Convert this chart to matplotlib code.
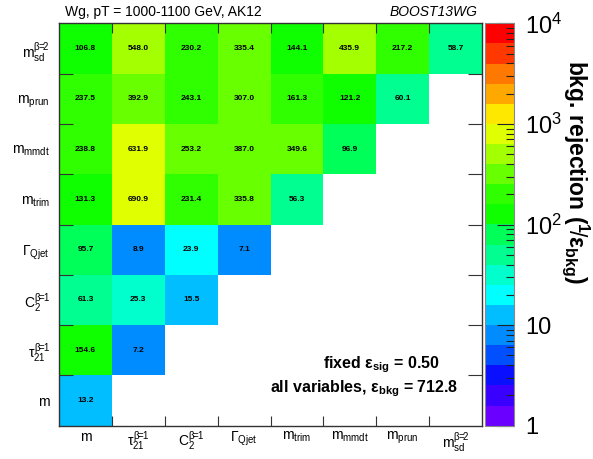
import numpy as np
import matplotlib
matplotlib.use("Agg")
import matplotlib.pyplot as plt
from matplotlib.colors import ListedColormap, LogNorm
from matplotlib.ticker import FixedLocator, LogLocator, NullFormatter

plt.rcParams['font.family'] = ['Liberation Sans', 'DejaVu Sans']
plt.rcParams['mathtext.fontset'] = 'custom'
plt.rcParams['mathtext.rm'] = 'Liberation Sans'
plt.rcParams['mathtext.it'] = 'Liberation Sans'
plt.rcParams['mathtext.bf'] = 'Liberation Sans:bold'

# ---- data ----
labels = [r"m", r"$\tau_{21}^{\beta\!\!=\!\!1}$", r"$\mathrm{C}_{2}^{\beta\!\!=\!\!1}$", r"$\Gamma_{\mathrm{Qjet}}$",
          r"$\mathrm{m}_{\mathrm{trim}}$", r"$\mathrm{m}_{\mathrm{mmdt}}$", r"$\mathrm{m}_{\mathrm{prun}}$",
          r"$\mathrm{m}_{\mathrm{sd}}^{\beta\!\!=\!\!2}$"]
row_m = [13.2]
row_tau21 = [154.6, 7.2]
row_c2 = [61.3, 25.3, 15.5]
row_qjet = [95.7, 8.9, 23.9, 7.1]
row_mtrim = [131.3, 690.9, 231.4, 335.8, 56.3]
row_mmmdt = [238.8, 631.9, 253.2, 387.0, 349.6, 96.9]
row_mprun = [237.5, 392.9, 243.1, 307.0, 161.3, 121.2, 60.1]
row_msd = [106.8, 548.0, 230.2, 335.4, 144.1, 435.9, 217.2, 58.7]
rows = [row_m, row_tau21, row_c2, row_qjet, row_mtrim, row_mmmdt, row_mprun, row_msd]
all_var_eff = 712.8
sig_eff = 0.50

palette = ["#6a00ff", "#3a00ff", "#0a10ff", "#0050ff", "#008cff", "#00beff", "#00ffff",
           "#00ffcc", "#00ff90", "#00ff58", "#10ff00", "#30ff00", "#68ff00", "#a4ff00",
           "#e0ff00", "#ffe800", "#ffa800", "#ff7800", "#ff3800", "#ff0000"]

n = len(labels)
Z = np.full((n, n), np.nan)
for i, r in enumerate(rows):
    Z[i, :len(r)] = r

W, H = 593, 459
fig = plt.figure(figsize=(W / 100, H / 100), dpi=100)
ax = fig.add_axes([59 / W, 1 - 425.7 / H, (482 - 59) / W, (425.7 - 23.3) / H])
cax = fig.add_axes([485 / W, 1 - 425.7 / H, 29 / W, (425.7 - 23.3) / H])

cmap = ListedColormap(palette)
cmap.set_bad((1, 1, 1, 0))
norm = LogNorm(vmin=1, vmax=1e4)
mesh = ax.pcolormesh(np.arange(n + 1), np.arange(n + 1), np.ma.masked_invalid(Z), cmap=cmap, norm=norm)

for i, r in enumerate(rows):
    for j, v in enumerate(r):
        ax.text(j + 0.5, i + 0.5, f"{v:.1f}", ha='center', va='center', fontsize=6,
                fontweight='bold', color='black', zorder=5)

ax.set_xlim(0, n)
ax.set_ylim(0, n)
ax.xaxis.set_major_locator(FixedLocator(np.arange(n) + 0.5))
ax.yaxis.set_major_locator(FixedLocator(np.arange(n) + 0.5))
ax.xaxis.set_minor_locator(FixedLocator(np.arange(1, n)))
ax.yaxis.set_minor_locator(FixedLocator(np.arange(1, n)))
ax.set_xticklabels(labels, fontsize=10)
ax.set_yticklabels(labels, fontsize=10)
ax.tick_params(axis='x', which='major', length=0, pad=3)
ax.tick_params(axis='y', which='major', length=0, pad=6.5)
ax.tick_params(axis='x', which='minor', direction='in', length=7, width=0.8, top=True, bottom=True, color='#333333')
ax.tick_params(axis='y', which='minor', direction='in', length=10, width=0.8, left=True, right=True, color='#333333')
for s in ax.spines.values():
    s.set_linewidth(1.0)
    s.set_color('#333333')

cb = fig.colorbar(mesh, cax=cax)
cb.outline.set_linewidth(0.8)
cb.outline.set_edgecolor('#888888')
cax.yaxis.set_major_locator(FixedLocator([1, 10, 100, 1000, 10000]))
cax.yaxis.set_minor_locator(LogLocator(base=10, subs=np.arange(2, 10)))
cax.yaxis.set_minor_formatter(NullFormatter())
cax.set_yticklabels(["1", "10", r"$10^{2}$", r"$10^{3}$", r"$10^{4}$"], fontsize=17)
cax.tick_params(axis='y', which='major', direction='in', length=12, width=0.8, pad=8, right=True, left=False, color='#222222')
cax.tick_params(axis='y', which='minor', direction='in', length=6, width=0.8, right=True, left=False, color='#222222')

fig.text(576 / W, 1 - 172 / H, r"bkg. rejection ($^{\mathbf{1}}\!/$ε$_{\mathbf{bkg}}$)", rotation=270,
         ha='center', va='center', fontsize=16.5, fontweight='bold')

fig.text(65 / W, 1 - 16 / H, "Wg, pT = 1000-1100 GeV, AK12", ha='left', va='baseline', fontsize=10)
fig.text(477 / W, 1 - 16 / H, "BOOST13WG", ha='right', va='baseline', fontsize=10, style='italic')

fig.text(323 / W, 1 - 368 / H, "fixed ε$_{\\mathbf{sig}}$ = %.2f" % sig_eff, ha='left', va='baseline',
         fontsize=11.5, fontweight='bold')
fig.text(458 / W, 1 - 392 / H, "all variables, ε$_{\\mathbf{bkg}}$ = %.1f" % all_var_eff, ha='right', va='baseline',
         fontsize=11.5, fontweight='bold')

fig.savefig("out.png", dpi=100)
